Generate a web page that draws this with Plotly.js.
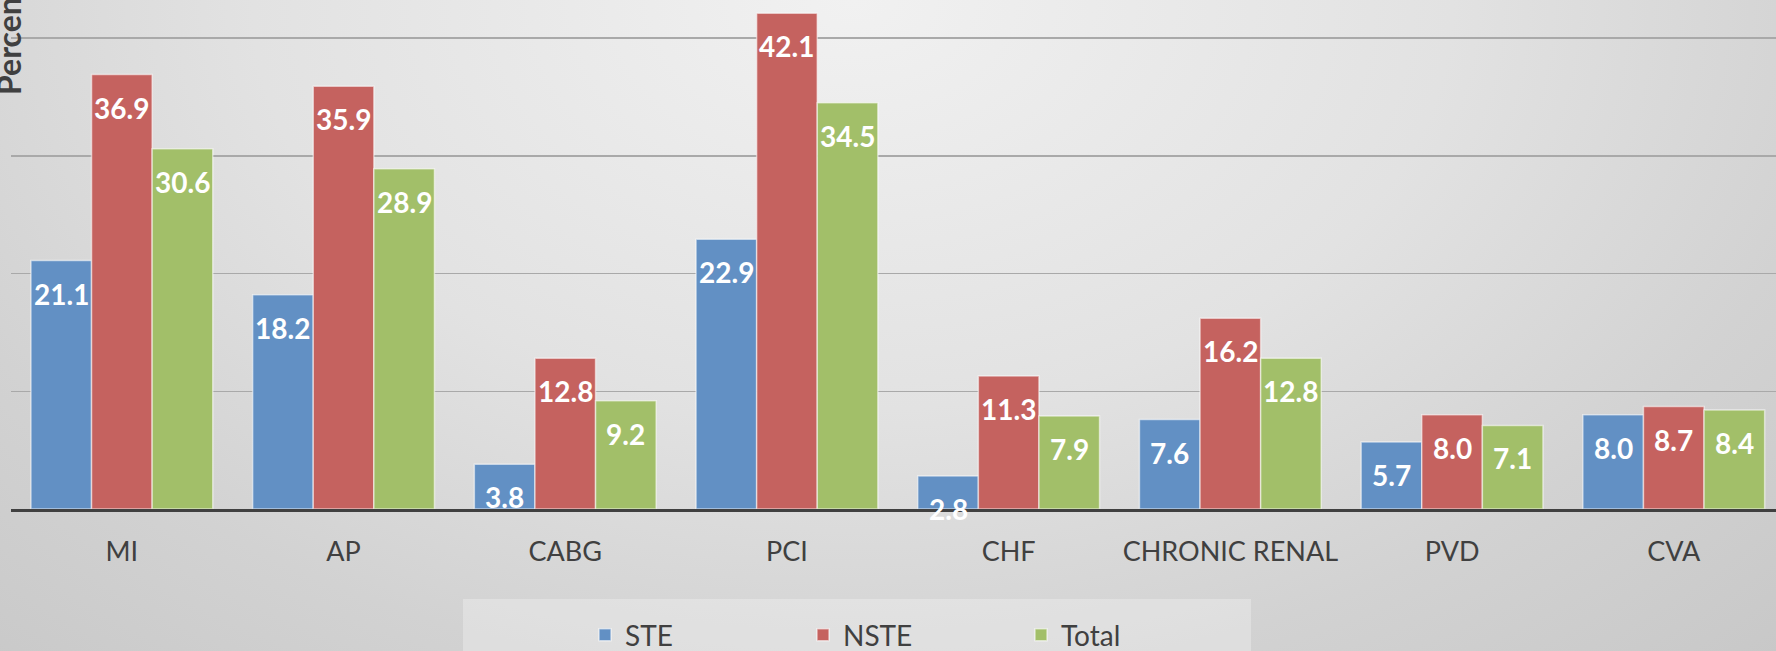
<!DOCTYPE html>
<html>
<head>
<meta charset="utf-8">
<script src="https://cdn.plot.ly/plotly-3.0.1.min.js"></script>
<style>
  html, body { margin: 0; padding: 0; overflow: hidden; }
  body {
    width: 1776px; height: 651px;
    background: radial-gradient(ellipse 75% 140% at 48% 0%, #f1f1f1 0%, #e2e2e2 45%, #d2d2d2 75%, #c8c8c8 100%);
  }
  #chart { width: 1776px; height: 651px; }
</style>
</head>
<body>
<div id="chart"></div>
<script>
const categories = ["MI", "AP", "CABG", "PCI", "CHF", "CHRONIC RENAL", "PVD", "CVA"];
const steValues   = [21.1, 18.2, 3.8, 22.9, 2.8, 7.6, 5.7, 8.0];
const nsteValues  = [36.9, 35.9, 12.8, 42.1, 11.3, 16.2, 8.0, 8.7];
const totalValues = [30.6, 28.9, 9.2, 34.5, 7.9, 12.8, 7.1, 8.4];
const seriesNames = ["STE", "NSTE", "Total"];
const yTitle = "Percent";

const colors = ["#6290c4", "#c5625f", "#a2bf69"];
const seriesValues = [steValues, nsteValues, totalValues];

const W = 1776, H = 651;
const mL = 11, mR = 0, mT = 0, mB = 142;
const plotW = W - mL - mR;
const plotH = H - mT - mB;
const catPx = 221.7;
const barGap = 0.18;
const barPx = (1 - barGap) * catPx / 3;
const py = p => (plotH - p) / plotH;        // pixel row -> paper y
const px = p => (p - mL) / plotW;           // pixel col -> paper x
const fontFam = "Lato, 'Open Sans', sans-serif";

const traces = seriesValues.map((vals, i) => ({
  type: "bar",
  name: seriesNames[i],
  x: categories,
  y: vals,
  marker: { color: colors[i], line: { color: "rgba(255,255,255,0.55)", width: 1.5 } },
  hoverinfo: "skip"
}));

const annotations = [];
seriesValues.forEach((vals, i) => {
  vals.forEach((v, j) => {
    annotations.push({
      x: categories[j], y: v, xref: "x", yref: "y",
      text: v.toFixed(1), showarrow: false,
      xanchor: "center", yanchor: "middle",
      xshift: (i - 1) * barPx, yshift: -33,
      font: { family: fontFam, size: 28, color: "#ffffff", weight: 700 }
    });
  });
});
annotations.push({
  xref: "paper", yref: "paper", x: 0, y: py(40),
  xanchor: "center", yanchor: "middle", xshift: -3,
  text: "<b>" + yTitle + "</b>", textangle: -90, showarrow: false,
  font: { family: fontFam, size: 32, color: "#404040" }
});

const layout = {
  width: W, height: H,
  margin: { l: mL, r: mR, t: mT, b: mB, pad: 0, autoexpand: false },
  paper_bgcolor: "rgba(0,0,0,0)",
  plot_bgcolor: "rgba(0,0,0,0)",
  barmode: "group",
  bargap: barGap,
  bargroupgap: 0,
  showlegend: true,
  legend: {
    orientation: "h", x: px(585), xanchor: "left",
    y: py(610), yanchor: "top",
    bgcolor: "rgba(0,0,0,0)", borderwidth: 0,
    entrywidth: 173, entrywidthmode: "pixels",
    font: { family: fontFam, size: 28, color: "#404040" },
    traceorder: "normal"
  },
  shapes: [{
    type: "rect", xref: "paper", yref: "paper",
    x0: px(463), x1: px(1251),
    y0: py(720), y1: py(599),
    fillcolor: "rgba(255,255,255,0.28)", line: { width: 0 }, layer: "below"
  }],
  xaxis: {
    type: "category",
    range: [-0.5, -0.5 + plotW / catPx],
    showline: true, linecolor: "#404040", linewidth: 3,
    ticks: "", showgrid: false, zeroline: false,
    ticklabelstandoff: 17,
    tickfont: { family: fontFam, size: 27, color: "#404040" },
    fixedrange: true
  },
  yaxis: {
    range: [0, plotH / 11.775],
    dtick: 10, showticklabels: false, ticks: "",
    showgrid: true, gridcolor: "#a9a9a9", gridwidth: 1.5,
    zeroline: false, showline: false, fixedrange: true
  },
  annotations: annotations
};

Plotly.newPlot("chart", traces, layout, { displayModeBar: false, staticPlot: true });
</script>
</body>
</html>
